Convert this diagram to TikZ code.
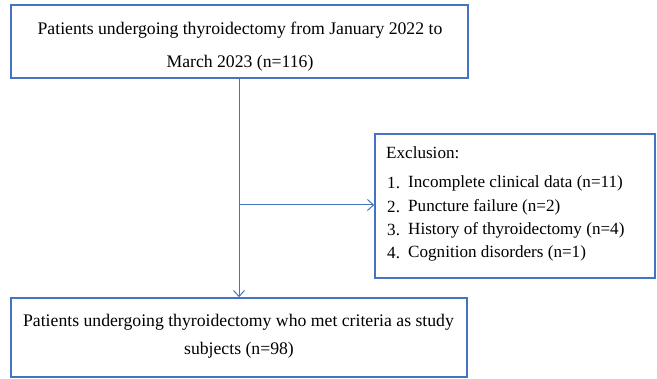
\documentclass[tikz,border=0pt]{standalone}
\usepackage{fontspec}
\setmainfont{Liberation Serif}
\usetikzlibrary{arrows.meta}
\definecolor{boxblue}{HTML}{4472C4}
\tikzset{
  box/.style={draw=boxblue, line width=1.6pt, rectangle, inner sep=0pt},
  txt/.style={inner sep=0pt, font=\fontsize{17.7}{20}\selectfont, text=black},
  etxt/.style={inner sep=0pt, anchor=west, font=\fontsize{17.1}{20}\selectfont, text=black},
  conn/.style={draw=boxblue, line width=1pt},
  arr/.style={conn, -{Straight Barb[length=6pt,width=11pt,line width=1pt]}}
}
\begin{document}
\begin{tikzpicture}[x=1pt,y=-1pt]
\useasboundingbox (0,0) rectangle (657,379);
% boxes
\node[box, minimum width=457pt, minimum height=73pt] (top) at (239.5,41.5) {};
\node[box, minimum width=280pt, minimum height=144pt] (exc) at (515,206) {};
\node[box, minimum width=456pt, minimum height=79pt] (bot) at (239,337.5) {};
% texts top
\node[txt] (t1) at (240,30) {Patients undergoing thyroidectomy from January 2022 to};
\node[txt] (t2) at (240,63) {March 2023 (n=116)};
% texts bottom
\node[txt] (b1) at (238.5,322) {Patients undergoing thyroidectomy who met criteria as study};
\node[txt] (b2) at (239,350) {subjects (n=98)};
% exclusion texts
\node[etxt] (e0) at (386,153) {Exclusion:};
\node[etxt] (n1) at (387,183) {1.};
\node[etxt] (e1) at (408,183) {Incomplete clinical data (n=11)};
\node[etxt] (n2) at (387,207) {2.};
\node[etxt] (e2) at (408,207) {Puncture failure (n=2)};
\node[etxt] (n3) at (387,230) {3.};
\node[etxt] (e3) at (408,230) {History of thyroidectomy (n=4)};
\node[etxt] (n4) at (387,253) {4.};
\node[etxt] (e4) at (408,253) {Cognition disorders (n=1)};
% connectors
\coordinate (j) at (239,205);
\draw[arr] (top.south -| j) -- (bot.north -| j);
\draw[arr] (j) -- (exc.west |- j);
\end{tikzpicture}
\end{document}
